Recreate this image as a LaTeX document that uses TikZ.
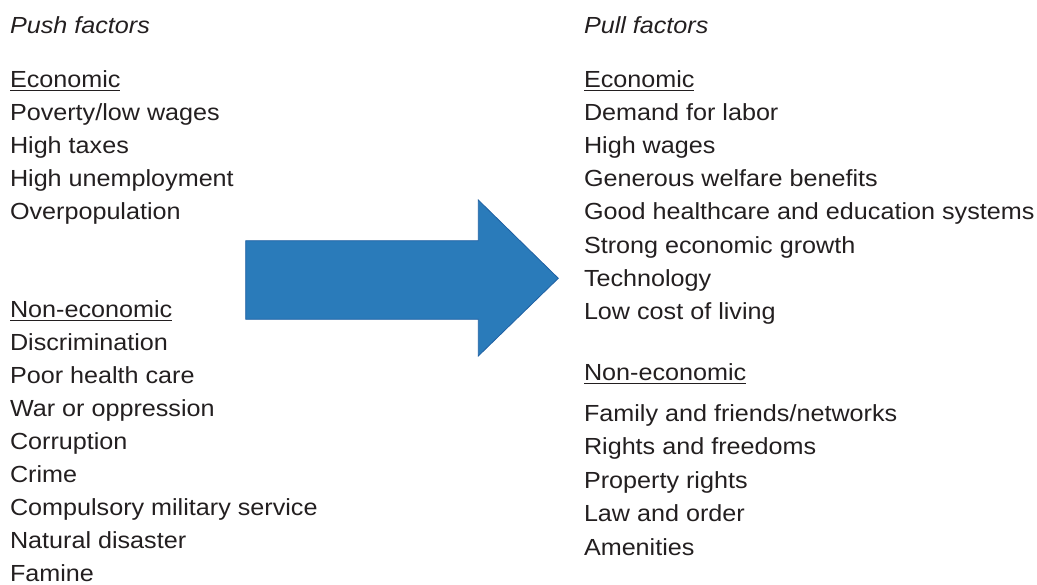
\documentclass[tikz,border=0pt]{standalone}
\usepackage{fontspec}
\setmainfont{Liberation Sans}[FakeStretch=1.08]
\definecolor{txt}{HTML}{231F20}
\definecolor{arrowfill}{HTML}{2A7BBA}
\definecolor{arrowline}{HTML}{1F60A3}
\newcommand\myul[1]{\setbox0\hbox{#1}\rlap{\rule[-3.6pt]{\wd0}{1.2pt}}\box0}
\begin{document}
\begin{tikzpicture}[x=1pt,y=-1pt,
  item/.style={anchor=base west,inner sep=0pt,outer sep=0pt,text=txt,font=\fontsize{23.3}{28}\selectfont},
  head/.style={item,font=\fontsize{23.3}{28}\selectfont\itshape},
  sub/.style={item}]
\useasboundingbox (0,0) rectangle (1037,585);
% left column
\node[head] (lh) at (10,33.3) {Push factors};
\node[sub] (le) at (10,87.3) {\myul{Economic}};
\node[item] (l1) at (10,120.3) {Poverty/low wages};
\node[item] (l2) at (10,153.5) {High taxes};
\node[item] (l3) at (10,186.7) {High unemployment};
\node[item] (l4) at (10,219.9) {Overpopulation};
\node[sub] (ln) at (10,317.5) {\myul{Non-economic}};
\node[item] (l5) at (10,350.6) {Discrimination};
\node[item] (l6) at (10,383.6) {Poor health care};
\node[item] (l7) at (10,416.6) {War or oppression};
\node[item] (l8) at (10,449.6) {Corruption};
\node[item] (l9) at (10,482.6) {Crime};
\node[item] (l10) at (10,515.6) {Compulsory military service};
\node[item] (l11) at (10,548.6) {Natural disaster};
\node[item] (l12) at (10,581.4) {Famine};
% right column
\node[head] (rh) at (584,33.3) {Pull factors};
\node[sub] (re) at (584,87.3) {\myul{Economic}};
\node[item] (r1) at (584,120.3) {Demand for labor};
\node[item] (r2) at (584,153.5) {High wages};
\node[item] (r3) at (584,186.7) {Generous welfare benefits};
\node[item] (r4) at (584,219.9) {Good healthcare and education systems};
\node[item] (r5) at (584,253.1) {Strong economic growth};
\node[item] (r6) at (584,286.3) {Technology};
\node[item] (r7) at (584,319.7) {Low cost of living};
\node[sub] (rn) at (584,380.7) {\myul{Non-economic}};
\node[item] (r8) at (584,421) {Family and friends/networks};
\node[item] (r9) at (584,454.5) {Rights and freedoms};
\node[item] (r10) at (584,488) {Property rights};
\node[item] (r11) at (584,521.5) {Law and order};
\node[item] (r12) at (584,555) {Amenities};
% big arrow
\filldraw[fill=arrowfill,draw=arrowline,line width=0.8pt,line join=miter]
  (245.7,240.7) -- (478.3,240.7) -- (478.3,200) -- (558.3,278.3)
  -- (478.3,356) -- (478.3,319.3) -- (245.7,319.3) -- cycle;
\end{tikzpicture}
\end{document}
